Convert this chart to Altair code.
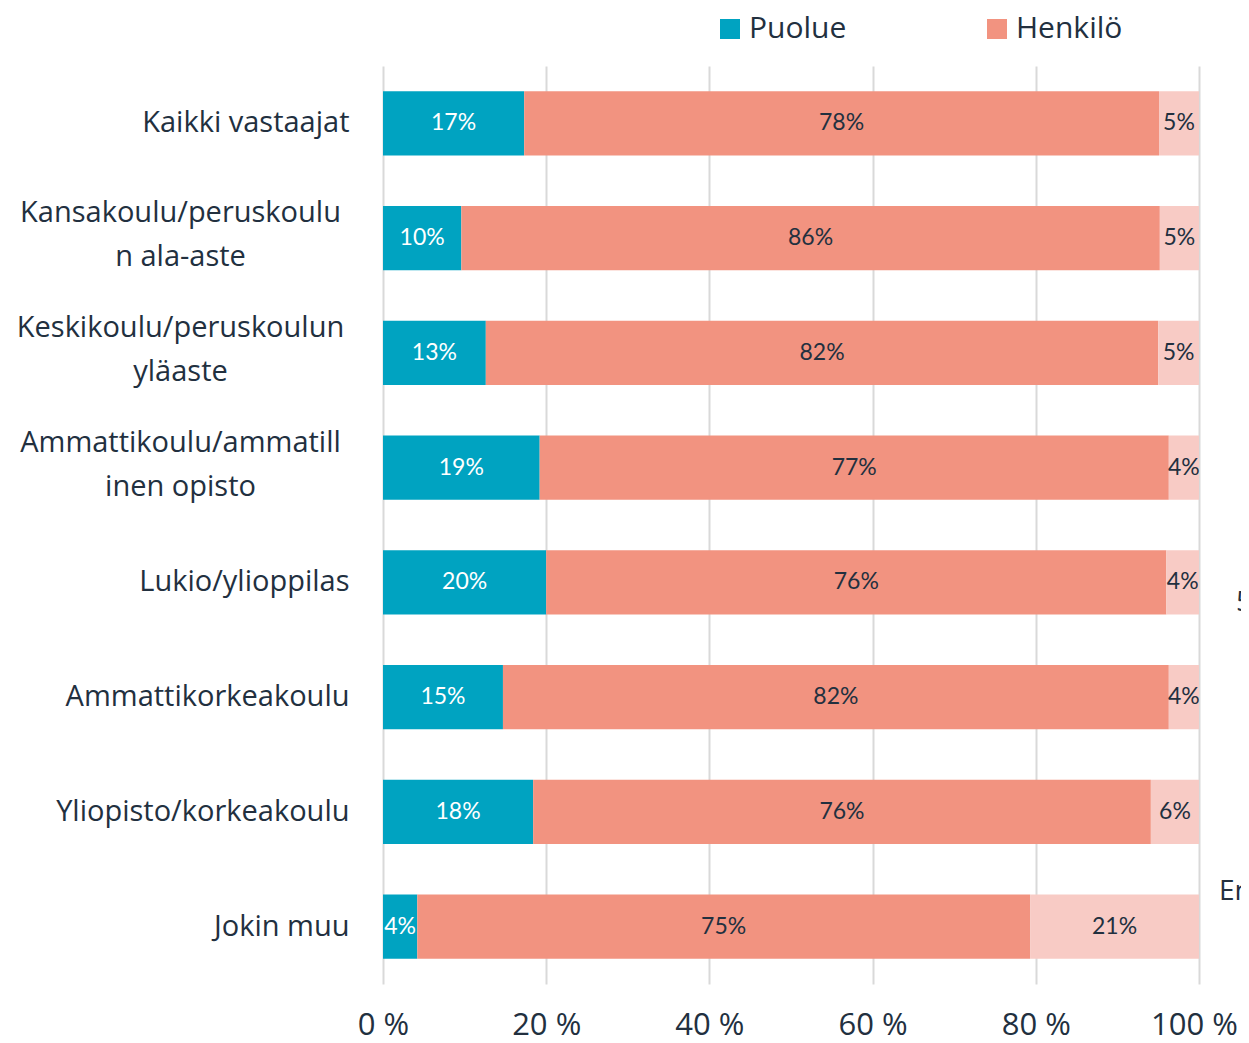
import altair as alt
import pandas as pd

categories = [
    "Kaikki vastaajat",
    "Kansakoulu/peruskoulu|n ala-aste",
    "Keskikoulu/peruskoulun|yläaste",
    "Ammattikoulu/ammatill|inen opisto",
    "Lukio/ylioppilas",
    "Ammattikorkeakoulu",
    "Yliopisto/korkeakoulu",
    "Jokin muu",
]
puolue = [17.3, 9.6, 12.6, 19.2, 20.0, 14.7, 18.4, 4.2]
henkilo = [77.8, 85.6, 82.4, 77.1, 76.0, 81.6, 75.7, 75.1]
eos = [4.9, 4.8, 5.0, 3.7, 4.0, 3.7, 5.9, 20.7]
series = ["Puolue", "Henkilö", "En osaa sanoa"]
colors = ["#00A3C1", "#F29380", "#F8CBC5"]
x_ticks = [0, 20, 40, 60, 80, 100]
stray_texts = ["5", "En"]

DARK = "#22303F"
FONT = "Open Sans"
MULTI = "indexof(datum.value, '|') >= 0"

rows = []
for i, c in enumerate(categories):
    for j, (s, vals) in enumerate(zip(series, [puolue, henkilo, eos])):
        rows.append({"cat": c, "series": s, "order": j, "value": vals[i]})
df = pd.DataFrame(rows)

base = alt.Chart(df).transform_stack(
    stack="value", as_=["x0", "x1"], groupby=["cat"], sort=[alt.SortField("order")]
).transform_calculate(
    mid="(datum.x0 + datum.x1) / 2",
    label="format(datum.value, '.0f') + '%'",
)

y_enc = alt.Y(
    "cat:N",
    sort=categories,
    scale=alt.Scale(paddingInner=0.44, paddingOuter=0.22),
    axis=alt.Axis(
        title=None,
        labelExpr="split(datum.label, '|')",
        labelFont=FONT,
        labelFontSize=29,
        labelColor=DARK,
        labelLineHeight=44,
        labelLimit=0,
        ticks=False,
        domain=False,
        grid=False,
        labelAlign={"condition": {"test": MULTI, "value": "center"}, "value": "right"},
        labelPadding={"condition": {"test": MULTI, "value": 203}, "value": 34},
        labelOffset={"condition": {"test": MULTI, "value": -25}, "value": 0},
    ),
)

bars = base.mark_bar().encode(
    x=alt.X(
        "x0:Q",
        scale=alt.Scale(domain=[0, 100], nice=False),
        axis=alt.Axis(
            title=None,
            values=x_ticks,
            labelExpr="datum.value + ' %'",
            grid=True,
            gridColor="#D9D9D9",
            gridWidth=2,
            domain=False,
            ticks=False,
            labelPadding=26,
            labelFont=FONT,
            labelFontSize=31,
            labelColor=DARK,
            labelFlush=False,
            labelOffset={"condition": {"test": "datum.value == 100", "value": -5}, "value": 0},
        ),
    ),
    x2="x1:Q",
    y=y_enc,
    color=alt.Color(
        "series:N",
        scale=alt.Scale(domain=series, range=colors),
        legend=alt.Legend(
            values=["Puolue", "Henkilö"],
            title=None,
            orient="none",
            legendX=332,
            legendY=-52,
            direction="horizontal",
            symbolType="square",
            symbolSize=400,
            symbolStrokeWidth=0,
            labelFont=FONT,
            labelFontSize=30,
            labelColor=DARK,
            labelOffset=4,
            columnPadding=135,
            padding=0,
        ),
    ),
    order=alt.Order("order:Q"),
)

labels = base.mark_text(font="Lato", fontSize=23, baseline="middle").encode(
    x="mid:Q",
    y=alt.Y("cat:N", sort=categories),
    text="label:N",
    color=alt.condition(alt.datum.series == "Puolue", alt.value("white"), alt.value(DARK)),
)

stray_df = pd.DataFrame({"t": stray_texts})
stray5 = alt.Chart(stray_df).transform_filter(alt.datum.t == "5").mark_text(
    font=FONT, fontSize=28, align="left", baseline="middle", color=DARK
).encode(text="t:N", x=alt.value(853), y=alt.value(537))
strayEn = alt.Chart(stray_df).transform_filter(alt.datum.t == "En").mark_text(
    font=FONT, fontSize=28, align="left", baseline="middle", color=DARK
).encode(text="t:N", x=alt.value(836), y=alt.value(826))

chart = alt.layer(bars, labels, stray5, strayEn).properties(
    width=816,
    height=918,
    padding={"left": 375, "top": 58, "right": 42, "bottom": 60},
    autosize=alt.AutoSizeParams(type="none"),
    background="white",
).configure_view(stroke=None)

chart.save("out.html", embed_options={"renderer": "svg", "actions": False})
